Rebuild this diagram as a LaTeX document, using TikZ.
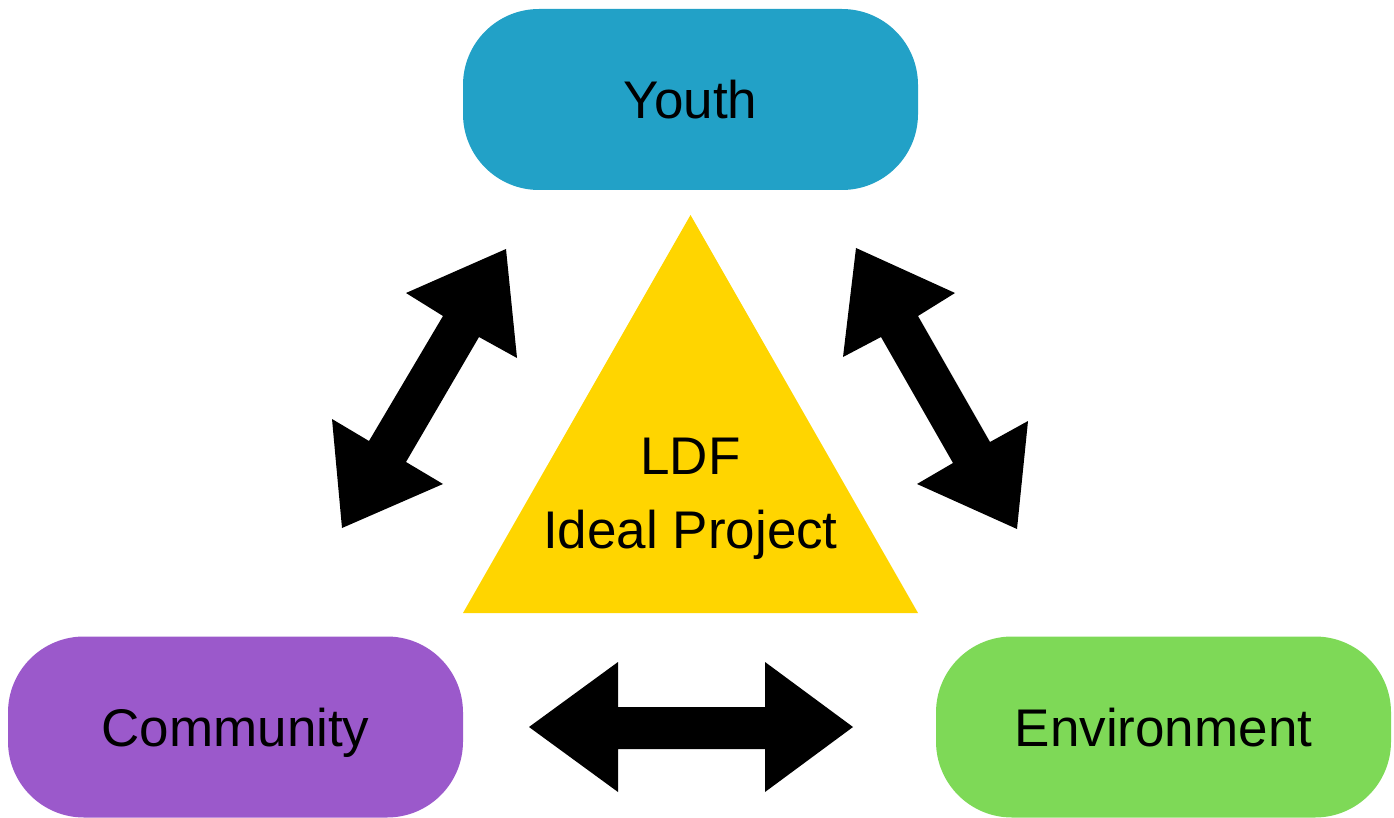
\documentclass[tikz,border=0pt]{standalone}
\usepackage{fontspec}
\setmainfont{Liberation Sans}
\definecolor{youthc}{HTML}{22A1C7}
\definecolor{commc}{HTML}{9B59CB}
\definecolor{envc}{HTML}{7ED957}
\definecolor{tric}{HTML}{FFD500}
\begin{document}
\begin{tikzpicture}[x=1pt,y=-1pt,
  box/.style={rectangle, rounded corners=76pt, minimum width=455pt, minimum height=181pt, inner sep=0pt, text height=38pt, text depth=0pt, font=\fontsize{53}{60}\selectfont},
  lbl/.style={font=\fontsize{53}{60}\selectfont, inner sep=0pt, text height=38pt, text depth=0pt},
  blk/.style={fill=black, draw=none}]
\useasboundingbox (0,0) rectangle (1394,818);
\node[box, fill=youthc] (youth) at (690.5,99.5) {Youth};
\node[box, fill=commc] (comm) at (235.5,727) {Community};
\node[box, fill=envc] (env) at (1163.5,727) {Environment};
\coordinate (ta) at (690.5,215);
\coordinate (tl) at (463,613);
\coordinate (tr) at (918,613);
\fill[tric] (ta) -- (tl) -- (tr) -- cycle;
\node[lbl] (ldf) at (690.5,455) {LDF};
\node[lbl] (ideal) at (690.5,529) {Ideal Project};
% left diagonal double arrow
\fill[blk] (406,293) -- (506,249) -- (517,358) -- (479,337) -- (406,462) -- (443,484)
  -- (342,528) -- (332,419) -- (369,441) -- (443,316) -- cycle;
% right diagonal double arrow
\fill[blk] (856,248) -- (955,293) -- (918,316) -- (990,442) -- (1028,421) -- (1017,529)
  -- (917,484) -- (953,463) -- (881,337) -- (843,357) -- cycle;
% bottom horizontal double arrow
\fill[blk] (529,727) -- (618,662) -- (618,707) -- (765,707) -- (765,662) -- (853,727)
  -- (765,792) -- (765,749) -- (618,749) -- (618,792) -- cycle;
\end{tikzpicture}
\end{document}
